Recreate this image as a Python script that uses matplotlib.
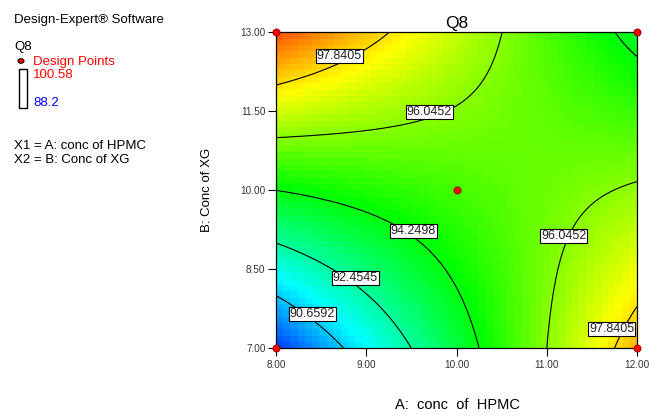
import numpy as np
import matplotlib
matplotlib.use("Agg")
import matplotlib.pyplot as plt
from matplotlib.colors import LinearSegmentedColormap

plt.rcParams['font.family'] = ['Liberation Sans', 'DejaVu Sans']

# ---- data ----
# Coded-factor model: Q8 = b0 + bA*A + bB*B + bAB*A*B
coef_intercept = 95.21
coef_A = 0.96
coef_B = 1.56
coef_AB = -3.83

a_range = [8.0, 12.0]        # A: conc of HPMC
b_range = [7.0, 13.0]        # B: Conc of XG
design_A = [8.0, 12.0, 8.0, 12.0, 10.0]
design_B = [7.0, 7.0, 13.0, 13.0, 10.0]
q_min, q_max = 88.2, 100.58
contour_levels = [90.6592, 92.4545, 94.2498, 96.0452, 97.8405]
label_positions = [(8.40, 7.65), (8.88, 8.34), (9.52, 9.23), (9.70, 11.49),
                   (11.19, 9.13), (8.70, 12.55), (11.72, 7.36)]
x_ticks = [8.0, 9.0, 10.0, 11.0, 12.0]
y_ticks = [7.0, 8.5, 10.0, 11.5, 13.0]

# ---- figure ----
W, H = 659, 416
fig = plt.figure(figsize=(W / 100, H / 100), dpi=100)
fig.patch.set_facecolor('white')

L, R, T, B = 276, 637, 32.3, 348.3
ax = fig.add_axes([L / W, 1 - B / H, (R - L) / W, (B - T) / H])

cmap = LinearSegmentedColormap.from_list(
    'de', [(0, '#0000ff'), (0.25, '#00ffff'), (0.5, '#00ff00'),
           (0.75, '#ffff00'), (1, '#ff0000')])

def model(A, Bv):
    x1 = (A - 10.0) / 2.0
    x2 = (Bv - 10.0) / 3.0
    return coef_intercept + coef_A * x1 + coef_B * x2 + coef_AB * x1 * x2

# pixelated fill like the reference
n = 50
xe = np.linspace(a_range[0], a_range[1], n + 1)
ye = np.linspace(b_range[0], b_range[1], n + 1)
xc = 0.5 * (xe[:-1] + xe[1:])
yc = 0.5 * (ye[:-1] + ye[1:])
Xc, Yc = np.meshgrid(xc, yc)
ax.pcolormesh(xe, ye, model(Xc, Yc), cmap=cmap, vmin=q_min, vmax=q_max,
              shading='flat')

xf = np.linspace(a_range[0], a_range[1], 300)
yf = np.linspace(b_range[0], b_range[1], 300)
Xf, Yf = np.meshgrid(xf, yf)
cs = ax.contour(Xf, Yf, model(Xf, Yf), levels=contour_levels,
                colors='black', linewidths=0.8)
labels = ax.clabel(cs, fmt='%.4f', fontsize=9, inline=False,
                   manual=label_positions)
for t, pos in zip(labels, label_positions):
    t.set_position(pos)
    t.set_bbox(dict(facecolor='white', edgecolor='black', pad=0.6,
                    linewidth=0.8))
    t.set_rotation(0)
    t.set_color('#222222')

ax.scatter(design_A, design_B, s=26, c='#ff0000', edgecolors='#8b0000',
           linewidths=0.6, zorder=5, clip_on=False)

ax.set_xlim(a_range)
ax.set_ylim(b_range)
ax.set_xticks(x_ticks)
ax.set_yticks(y_ticks)
ax.set_xticklabels([f'{v:.2f}' for v in x_ticks])
ax.set_yticklabels([f'{v:.2f}' for v in y_ticks])
ax.tick_params(direction='out', length=5.5, width=0.8, labelsize=7.2,
               pad=2, colors='black', labelcolor='#333333')
ax.tick_params(axis='x', pad=3)
for s in ax.spines.values():
    s.set_linewidth(0.9)
    s.set_color('black')

ax.set_title('Q8', fontsize=12.5, pad=3)
fig.text(457 / W, 1 - 405 / H, 'A:  conc  of  HPMC', ha='center', va='center',
         fontsize=10.5)
fig.text(207 / W, 1 - 190 / H, 'B: Conc of XG', ha='center', va='center',
         rotation=90, fontsize=9.5)

# left info panel
def ftxt(px, py, s, **kw):
    fig.text(px / W, 1 - py / H, s, va='center', ha='left', **kw)

ftxt(14, 20, 'Design-Expert\u00ae Software', fontsize=9.5)
ftxt(14, 47, 'Q8', fontsize=9.5)
fig.patches.append(matplotlib.patches.Ellipse(
    (21 / W, 1 - 61 / H), 6 / W, 4.5 / H, transform=fig.transFigure,
    facecolor='#ff0000', edgecolor='black', linewidth=0.8))
ftxt(33, 62, 'Design Points', fontsize=9.5, color='#ff0000')
fig.patches.append(matplotlib.patches.Rectangle(
    (19 / W, 1 - 108 / H), 8 / W, 39 / H, transform=fig.transFigure,
    facecolor='white', edgecolor='black', linewidth=1.0))
ftxt(33, 75, f'{q_max:g}', fontsize=9.5, color='#ff0000')
ftxt(33, 103, f'{q_min:g}', fontsize=9.5, color='#0000ff')
ftxt(14, 146, 'X1 = A: conc of HPMC', fontsize=9.5)
ftxt(14, 160, 'X2 = B: Conc of XG', fontsize=9.5)

fig.savefig('out.png', dpi=100, facecolor='white')
